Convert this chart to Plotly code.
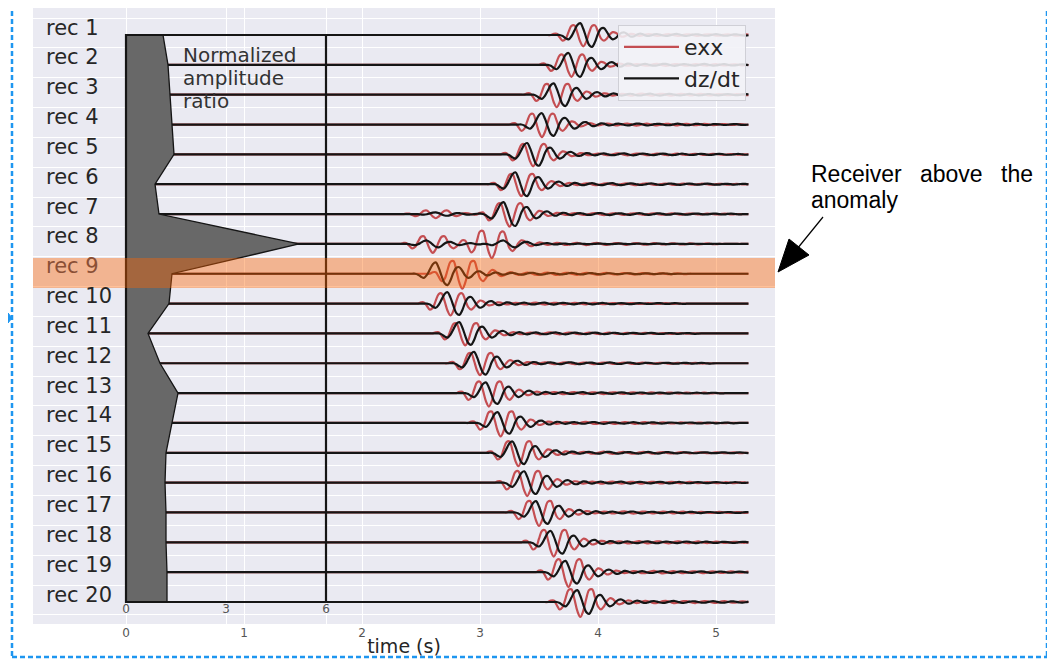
import numpy as np
import plotly.graph_objects as go

# ---------------- data ----------------
REC_LABELS = [f"rec {i}" for i in range(1, 21)]
REC_POS = list(range(1, 21))

# normalized amplitude ratio (inset polygon, inset axis 0..6)
AMP_RATIO = [1.11, 1.26, 1.32, 1.38, 1.44, 0.87, 0.99, 5.19, 1.38, 1.29,
             0.66, 1.02, 1.56, 1.38, 1.20, 1.17, 1.20, 1.20, 1.23, 1.23]

# time (s) of the main peak of each trace
DZDT_PEAK_T = [3.85, 3.75, 3.62, 3.53, 3.41, 3.31, 3.21, 3.20, 2.62, 2.73,
               2.83, 2.94, 3.06, 3.15, 3.28, 3.38, 3.48, 3.61, 3.72, 3.83]
EXX_PEAK_T = [3.80, 3.70, 3.58, 3.45, 3.37, 3.27, 3.17, 3.03, 2.77, 2.68,
              2.80, 2.92, 3.00, 3.10, 3.24, 3.33, 3.43, 3.55, 3.67, 3.78]
# trace amplitudes (in receiver-spacing units)
DZDT_AMP = [0.42, 0.42, 0.40, 0.40, 0.40, 0.42, 0.42, 0.12, 0.40, 0.40,
            0.40, 0.40, 0.38, 0.38, 0.40, 0.40, 0.40, 0.40, 0.40, 0.42]
EXX_AMP = [0.38, 0.40, 0.42, 0.42, 0.40, 0.40, 0.42, 0.48, 0.50, 0.40,
           0.40, 0.40, 0.45, 0.45, 0.45, 0.45, 0.45, 0.48, 0.50, 0.50]

# weaker early arrivals seen on rec 7 and rec 8
EARLY_REC = [7, 8]
EXX_EARLY_T = [2.55, 2.52]
EXX_EARLY_AMP = [0.14, 0.30]
DZDT_EARLY_T = [2.62, 2.55]
DZDT_EARLY_AMP = [0.06, 0.12]

DT = 0.025
T_END = 5.28
DZDT_WAVELET = [0, -0.08, -0.25, -0.35, -0.1, 0.35, 0.8, 0.95, 0.5, -0.2,
                -0.8, -0.95, -0.55, 0.1, 0.5, 0.55, 0.25, -0.15, -0.35, -0.25,
                0.0, 0.18, 0.2, 0.05, -0.12, -0.12, 0.0, 0.1, 0.08, -0.03,
                -0.08, -0.03, 0.05, 0.08, 0.03, -0.04, -0.07, -0.05, 0.02, 0.07,
                0.08, 0.02, -0.05, -0.08, -0.04, 0.03, 0.06, 0.05, 0.0, -0.05,
                -0.06, -0.02, 0.04, 0.07, 0.04, -0.02, -0.06, -0.05, 0.0, 0.05,
                0.05, 0.01, -0.04, -0.05, -0.02, 0.03, 0.04, 0.02, -0.02, -0.04,
                -0.02, 0.02, 0.04, 0.03, -0.01, -0.03, -0.03, 0.0, 0.03, 0.03,
                0.0, -0.03, -0.02, 0.01, 0.03, 0.02, -0.01, -0.03, -0.01, 0.0]
DZDT_PEAK_IDX = 7
EXX_WAVELET = [0, 0.1, 0.1, -0.2, -0.5, -0.35, 0.25, 0.8, 0.85, 0.2,
               -0.6, -1.0, -0.6, 0.2, 0.8, 0.85, 0.3, -0.3, -0.5, -0.3,
               0.05, 0.25, 0.2, 0.0, -0.15, -0.12, 0.0, 0.1, 0.08, -0.02,
               -0.07, -0.04, 0.03, 0.07, 0.05, -0.02, -0.07, -0.06, 0.0, 0.06,
               0.08, 0.03, -0.04, -0.08, -0.05, 0.02, 0.06, 0.06, 0.01, -0.05,
               -0.07, -0.03, 0.03, 0.06, 0.05, 0.0, -0.05, -0.06, -0.01, 0.04,
               0.06, 0.02, -0.03, -0.05, -0.03, 0.02, 0.05, 0.03, -0.01, -0.04,
               -0.03, 0.01, 0.04, 0.03, 0.0, -0.03, -0.03, 0.0, 0.03, 0.02,
               -0.01, -0.03, -0.02, 0.01, 0.03, 0.01, -0.02, -0.02, 0.0, 0.0]
EXX_PEAK_IDX = 8

INSET_TICKS = [0, 3, 6]
TIME_TICKS = [0, 1, 2, 3, 4, 5]

RED = "#C44E52"
BLACK = "#151515"
BLUE = "#1E96F0"

# ---------------- geometry helpers (page pixel -> plot fraction) ----------------
OFF = 8                      # page body margin
W, H = 1055 - OFF, 661 - OFF
PL, PR, PT, PB = 33, 775, 8, 624   # plot area in page pixels


def px(xp):
    return (xp - PL) / (PR - PL)


def py(yp):
    return 1 - (yp - PT) / (PB - PT)


t = np.arange(0, T_END + DT / 2, DT)


def place(sig, wavelet, peak_idx, peak_t, amp):
    start = int(round(peak_t / DT)) - peak_idx
    for i, w in enumerate(wavelet):
        j = start + i
        if 0 <= j < len(sig):
            sig[j] += amp * w


fig = go.Figure()

# inset polygon (normalized amplitude ratio) on the inset axis x2
poly_x = [0] + AMP_RATIO + [0]
poly_y = [REC_POS[0]] + REC_POS + [REC_POS[-1]]
fig.add_trace(go.Scatter(x=poly_x, y=poly_y, xaxis="x2", yaxis="y", fill="toself",
                         fillcolor="#686868", mode="lines",
                         line=dict(color=BLACK, width=1.3), showlegend=False,
                         hoverinfo="skip"))

for k in range(20):
    red = np.zeros_like(t)
    blk = np.zeros_like(t)
    place(red, EXX_WAVELET, EXX_PEAK_IDX, EXX_PEAK_T[k], EXX_AMP[k])
    place(blk, DZDT_WAVELET, DZDT_PEAK_IDX, DZDT_PEAK_T[k], DZDT_AMP[k])
    rec = REC_POS[k]
    if rec in EARLY_REC:
        e = EARLY_REC.index(rec)
        place(red, EXX_WAVELET[:30], EXX_PEAK_IDX, EXX_EARLY_T[e], EXX_EARLY_AMP[e])
        place(blk, DZDT_WAVELET[:30], DZDT_PEAK_IDX, DZDT_EARLY_T[e], DZDT_EARLY_AMP[e])
    fig.add_trace(go.Scatter(x=t, y=rec - red, mode="lines", line_shape="spline",
                             line=dict(color=RED, width=2.2), name="exx",
                             showlegend=(k == 0)))
    fig.add_trace(go.Scatter(x=t, y=rec - blk, mode="lines", line_shape="spline",
                             line=dict(color=BLACK, width=2.2), name="dz/dt",
                             showlegend=(k == 0)))

# y mapping: rec spacing ~29.84 px, rec 1 at pixel 35
SP = (602 - 35) / 19
y_top = 1 - (35 - PT) / SP
y_bot = 1 + (PB - 35) / SP
grid_vals = [1 - 17 / SP + j for j in range(21)]

# x mapping: 118 px per second, t=0 at pixel 126
PPS = 118.0
x_lo = -(126 - PL) / PPS
x_hi = (PR - 126) / PPS
# inset axis: 0..6 spans pixel 126..326
PPU = 200 / 6
x2_lo = -(126 - PL) / PPU
x2_hi = (PR - 126) / PPU

shapes = []
# inset frame
shapes.append(dict(type="rect", xref="x2", yref="y", x0=0, x1=6, y0=REC_POS[0], y1=REC_POS[-1],
                   line=dict(color=BLACK, width=2.2), fillcolor="rgba(0,0,0,0)", layer="above"))
# highlighted receiver band
shapes.append(dict(type="rect", xref="paper", yref="y", x0=0, x1=1, y0=8.47, y1=9.48,
                   line=dict(width=0), fillcolor="rgba(255,100,0,0.40)", layer="above"))
# annotation arrow (line + big head)
shapes.append(dict(type="line", xref="paper", yref="paper", x0=px(823), y0=py(217), x1=px(797), y1=py(249),
                   line=dict(color="black", width=1.2)))
shapes.append(dict(type="path", xref="paper", yref="paper",
                   path=f"M {px(778)},{py(272)} L {px(789)},{py(239)} L {px(809)},{py(255)} Z",
                   fillcolor="black", line=dict(color="black", width=1)))
# blue dashed page frame
for (xa, ya, xb, yb) in [(12, -5, 12, 657), (12, 657, 1047, 657), (1047, -5, 1047, 657)]:
    shapes.append(dict(type="line", xref="paper", yref="paper", x0=px(xa), y0=py(ya), x1=px(xb), y1=py(yb),
                       line=dict(color=BLUE, width=2.5, dash="5px,3px")))
shapes.append(dict(type="path", xref="paper", yref="paper",
                   path=f"M {px(8)},{py(313)} L {px(12)},{py(318)} L {px(8)},{py(323)} Z",
                   fillcolor=BLUE, line=dict(color=BLUE, width=1)))

annotations = []
for lab, pos in zip(REC_LABELS, REC_POS):
    annotations.append(dict(x=px(44), xref="paper", y=pos - 0.25, yref="y", text=lab, showarrow=False,
                            xanchor="left", yanchor="middle",
                            font=dict(family="DejaVu Sans", size=21,
                                      color="#8a4f35" if lab == "rec 9" else "#262626")))
for word, yl in [("Normalized", 55), ("amplitude", 78), ("ratio", 101)]:
    annotations.append(dict(x=px(181), xref="paper", y=py(yl), yref="paper", text=word,
                            showarrow=False, xanchor="left", yanchor="middle",
                            font=dict(family="DejaVu Sans", size=20, color="#333333")))
for word, xw, yw in [("Receiver", 809, 174), ("above", 918, 174), ("the", 999, 174), ("anomaly", 809, 200)]:
    annotations.append(dict(x=px(xw), xref="paper", y=py(yw), yref="paper", text=word, showarrow=False,
                            xanchor="left", yanchor="middle",
                            font=dict(family="Liberation Sans", size=23, color="black")))

fig.update_layout(
    width=W, height=H,
    margin=dict(l=PL - OFF, r=(1055 - OFF) - (PR - OFF), t=PT - OFF, b=(661 - OFF) - (PB - OFF)),
    paper_bgcolor="white", plot_bgcolor="#EAEAF2",
    font=dict(family="DejaVu Sans", color="#262626"),
    xaxis=dict(range=[x_lo, x_hi], tickvals=TIME_TICKS, ticktext=[str(v) for v in TIME_TICKS],
               showgrid=True, gridcolor="white", gridwidth=1.3, zeroline=False, showline=False,
               ticks="", tickfont=dict(size=12, color="#555555"),
               title=dict(text="time (s)", font=dict(size=19, color="#262626"), standoff=0),
               automargin=False),
    xaxis2=dict(range=[x2_lo, x2_hi], overlaying="x", anchor="free", position=py(600), side="bottom",
                tickvals=INSET_TICKS, ticktext=[str(v) for v in INSET_TICKS],
                showgrid=True, gridcolor="white", gridwidth=1.3, zeroline=False, showline=False,
                ticks="", tickfont=dict(size=12, color="#555555"), automargin=False),
    yaxis=dict(range=[y_bot, y_top], tickvals=grid_vals, showticklabels=False, showgrid=True,
               gridcolor="white", gridwidth=1.3, zeroline=False, showline=False, ticks="",
               automargin=False),
    legend=dict(x=px(618), y=py(25), xanchor="left", yanchor="top",
                bgcolor="rgba(242,242,247,0.88)", bordercolor="#cfcfd6", borderwidth=1,
                font=dict(family="DejaVu Sans", size=22, color="#262626"), itemwidth=55,
                tracegroupgap=0),
    shapes=shapes, annotations=annotations,
)

fig.write_html("out.html")
